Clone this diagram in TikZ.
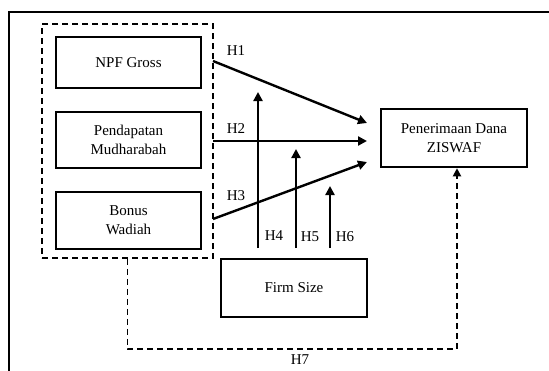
\documentclass[tikz,border=0pt]{standalone}
\usepackage{fontspec}
\setmainfont{Liberation Serif}
\usetikzlibrary{arrows.meta,calc}
\begin{document}
\begin{tikzpicture}[x=1pt,y=-1pt,
  varbox/.style={draw,line width=2.5pt,align=center,inner sep=0pt,font=\fontsize{15}{19}\selectfont},
  lbl/.style={font=\fontsize{15}{18}\selectfont,inner sep=0pt},
  arr/.style={line width=2.4pt,-{Triangle[length=9pt,width=9pt]}},
  dsh/.style={line width=1.8pt,dash pattern=on 6pt off 4pt}
]
\useasboundingbox (0,0) rectangle (549,370);
\coordinate (fbl) at (9,371);
\coordinate (ftl) at (9,12);
\coordinate (ftr) at (550,12);
\draw[line width=2.5pt] (fbl) -- (ftl) -- (ftr);
% group
\node[dsh,draw,minimum width=171pt,minimum height=234pt,inner sep=0pt] (grp) at (127.5,141) {};
\node[varbox,minimum width=145pt,minimum height=51pt] (npf) at (128.5,62.5) {NPF Gross};
\node[varbox,minimum width=145pt,minimum height=56pt] (pm) at (128.5,140) {Pendapatan\\Mudharabah};
\node[varbox,minimum width=145pt,minimum height=57pt] (bw) at (128.5,220.5) {Bonus\\Wadiah};
\node[varbox,minimum width=146pt,minimum height=58pt] (zis) at (454,138) {Penerimaan Dana\\ZISWAF};
\node[varbox,minimum width=146pt,minimum height=58pt] (fs) at (294,288) {Firm Size};
% H1-H3
\coordinate (s1) at (213,61);
\coordinate (s2) at (213,141);
\coordinate (s3) at (213,219);
\coordinate (e1) at (367,123);
\coordinate (e2) at (367,141);
\coordinate (e3) at (367,162);
\draw[arr] (s1) -- (e1);
\draw[arr] (s2) -- (e2);
\draw[arr] (s3) -- (e3);
% H4-H6
\coordinate (v4s) at (258,248); \coordinate (v4e) at (258,92);
\coordinate (v5s) at (296,248); \coordinate (v5e) at (296,149);
\coordinate (v6s) at (330,248); \coordinate (v6e) at (330,186);
\draw[arr] (v4s) -- (v4e);
\draw[arr] (v5s) -- (v5e);
\draw[arr] (v6s) -- (v6e);
% H7
\coordinate (c1) at (127.5,349);
\coordinate (c2) at (457,349);
\draw[dsh,-{Triangle[length=8pt,width=8pt]}] (grp.south) -- (c1) -- (c2) -- (zis.south -| c2);
% labels
\node[lbl] (h1) at (236,51) {H1};
\node[lbl] (h2) at (236,129) {H2};
\node[lbl] (h3) at (236,196) {H3};
\node[lbl] (h4) at (274,236) {H4};
\node[lbl] (h5) at (310,237) {H5};
\node[lbl] (h6) at (345,237) {H6};
\node[lbl] (h7) at (300,360) {H7};
\end{tikzpicture}
\end{document}
